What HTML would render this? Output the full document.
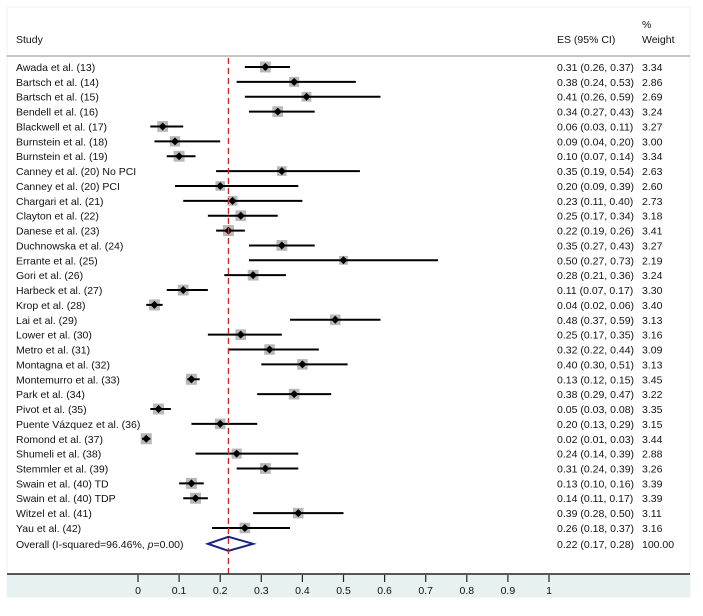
<!DOCTYPE html>
<html><head><meta charset="utf-8"><style>
body{margin:0;background:#fff;}
svg text{font-family:"Liberation Sans",sans-serif;font-size:10.5px;fill:#111;}
</style></head><body>
<svg width="703" height="611" viewBox="0 0 703 611">
<rect x="7" y="7" width="683" height="590" fill="#fff" stroke="#f0f0f0"/>
<rect x="7" y="574" width="683" height="23" fill="#e6f1f0"/>
<text x="16" y="43">Study</text>
<text x="557" y="43">ES (95% CI)</text>
<text x="642" y="28">%</text>
<text x="642" y="43">Weight</text>
<line x1="7" y1="56" x2="690" y2="56" stroke="#888" stroke-width="1"/>
<g id="rows"></g>
<g id="axis"></g>
</svg>
<script>
const studies=["Awada et al. (13)","Bartsch et al. (14)","Bartsch et al. (15)","Bendell et al. (16)","Blackwell et al. (17)","Burnstein et al. (18)","Burnstein et al. (19)","Canney et al. (20) No PCI","Canney et al. (20) PCI","Chargari et al. (21)","Clayton et al. (22)","Danese et al. (23)","Duchnowska et al. (24)","Errante et al. (25)","Gori et al. (26)","Harbeck et al. (27)","Krop et al. (28)","Lai et al. (29)","Lower et al. (30)","Metro et al. (31)","Montagna et al. (32)","Montemurro et al. (33)","Park et al. (34)","Pivot et al. (35)","Puente Vázquez et al. (36)","Romond et al. (37)","Shumeli et al. (38)","Stemmler et al. (39)","Swain et al. (40) TD","Swain et al. (40) TDP","Witzel et al. (41)","Yau et al. (42)"];
const es=[0.31,0.38,0.41,0.34,0.06,0.09,0.10,0.35,0.20,0.23,0.25,0.22,0.35,0.50,0.28,0.11,0.04,0.48,0.25,0.32,0.40,0.13,0.38,0.05,0.20,0.02,0.24,0.31,0.13,0.14,0.39,0.26];
const lo=[0.26,0.24,0.26,0.27,0.03,0.04,0.07,0.19,0.09,0.11,0.17,0.19,0.27,0.27,0.21,0.07,0.02,0.37,0.17,0.22,0.30,0.12,0.29,0.03,0.13,0.01,0.14,0.24,0.10,0.11,0.28,0.18];
const hi=[0.37,0.53,0.59,0.43,0.11,0.20,0.14,0.54,0.39,0.40,0.34,0.26,0.43,0.73,0.36,0.17,0.06,0.59,0.35,0.44,0.51,0.15,0.47,0.08,0.29,0.03,0.39,0.39,0.16,0.17,0.50,0.37];
const weights=[3.34,2.86,2.69,3.24,3.27,3.00,3.34,2.63,2.60,2.73,3.18,3.41,3.27,2.19,3.24,3.30,3.40,3.13,3.16,3.09,3.13,3.45,3.22,3.35,3.15,3.44,2.88,3.26,3.39,3.39,3.11,3.16];
const overall=[0.22,0.17,0.28];
const ticks=[0,0.1,0.2,0.3,0.4,0.5,0.6,0.7,0.8,0.9,1];
const NS="http://www.w3.org/2000/svg";
const X=v=>138+v*411;
const Y=i=>67+i*14.87;
const rows=document.getElementById('rows'), axis=document.getElementById('axis');
function mk(tag,attrs,parent,txt){const e=document.createElementNS(NS,tag);for(const k in attrs)e.setAttribute(k,attrs[k]);if(txt!==undefined)e.textContent=txt;parent.appendChild(e);return e;}
const f=v=>v.toFixed(2);
studies.forEach((s,i)=>{
 const y=Y(i);
 const g=mk('g',{},rows);
 
 
 const t=mk('text',{x:16,y:y+4},g,s);
 
 
 const sz=11*Math.sqrt(weights[i]/3.4);
 const b=mk('rect',{x:X(es[i])-sz/2,y:y-sz/2,width:sz,height:sz,fill:'#b8b8b8'},g);
 
 
 const l=mk('line',{x1:X(lo[i]),x2:X(hi[i]),y1:y,y2:y,stroke:'#000','stroke-width':2},g);
 
 
 const d=mk('path',{d:`M${X(es[i])-4} ${y} L${X(es[i])} ${y-4} L${X(es[i])+4} ${y} L${X(es[i])} ${y+4}Z`,fill:'#000'},g);
 
 
 const e=mk('text',{x:557,y:y+4},g,`${f(es[i])} (${f(lo[i])}, ${f(hi[i])})`);
 
 
 const w=mk('text',{x:642,y:y+4},g,f(weights[i]));
 
 
});
const oy=Y(studies.length)+1;
const ot=mk('text',{x:16,y:oy+4},rows);


ot.innerHTML='Overall  (I-squared=96.46%, <tspan font-style="italic">p</tspan>=0.00)';
const dm=mk('path',{d:`M${X(overall[1])} ${oy} L${X(overall[0])} ${oy-7} L${X(overall[2])} ${oy} L${X(overall[0])} ${oy+7}Z`,fill:'none',stroke:'#1a237e','stroke-width':2},rows);


const oe=mk('text',{x:557,y:oy+4},rows,`${f(overall[0])} (${f(overall[1])}, ${f(overall[2])})`);


const ow=mk('text',{x:642,y:oy+4},rows,'100.00');


const ref=mk('line',{x1:X(overall[0]),x2:X(overall[0]),y1:58,y2:574,stroke:'#c62828','stroke-width':1.3,'stroke-dasharray':'6,4'},axis);


const al=mk('line',{x1:7,x2:690,y1:574,y2:574,stroke:'#222','stroke-width':1.5},axis);


ticks.forEach(v=>{
 const tk=mk('line',{x1:X(v),x2:X(v),y1:575,y2:582,stroke:'#222','stroke-width':1.2},axis);
 
 
 const tl=mk('text',{x:X(v),y:594,'text-anchor':'middle','font-size':'9.5'},axis,String(v));
 
 
});
</script>
</body></html>
